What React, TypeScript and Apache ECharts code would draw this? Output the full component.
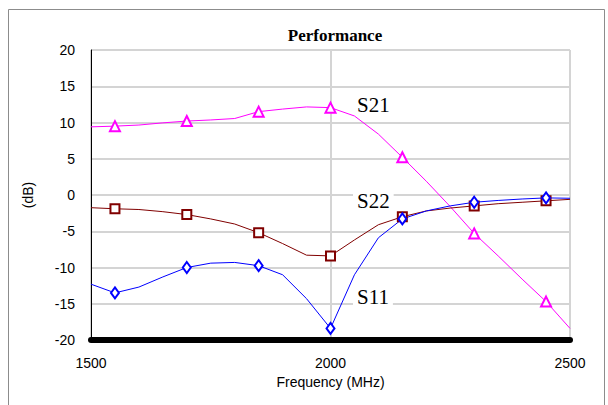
import React, { useEffect, useRef } from "react";
import * as echarts from "echarts";

const freqs = [1500, 1550, 1600, 1650, 1700, 1750, 1800, 1850, 1900, 1950, 2000, 2050, 2100, 2150, 2200, 2250, 2300, 2350, 2400, 2450, 2500];
const markerFreqs = [1550, 1700, 1850, 2000, 2150, 2300, 2450];
const s21 = [9.4, 9.5, 9.65, 9.95, 10.2, 10.35, 10.55, 11.5, 11.85, 12.15, 12.05, 10.9, 8.4, 5.2, 1.9, -1.6, -5.3, -8.4, -11.6, -14.7, -18.4];
const s22 = [-1.75, -1.9, -2.0, -2.3, -2.7, -3.3, -4.0, -5.2, -6.7, -8.3, -8.4, -6.2, -4.1, -3.0, -2.2, -1.8, -1.5, -1.2, -1.0, -0.8, -0.6];
const s11 = [-12.3, -13.5, -12.7, -11.3, -10.0, -9.4, -9.3, -9.75, -11.0, -14.3, -18.4, -11.0, -5.9, -3.3, -2.2, -1.5, -1.0, -0.75, -0.55, -0.4, -0.45];
const xTicks = { min: 1500, max: 2500, interval: 500 };
const yTicks = { min: -20, max: 20, interval: 5 };

const pair = (ys: number[]) => freqs.map((f, i) => [f, ys[i]]);

export default function App() {
  const ref = useRef<HTMLDivElement>(null);
  useEffect(() => {
    if (!ref.current) return;
    const chart = echarts.init(ref.current, undefined, { renderer: "svg" });
    const mk = (sym: string) => (v: number[]) => (markerFreqs.indexOf(v[0]) >= 0 ? sym : "none");
    const mkSeries = (name: string, ys: number[], color: string, sym: string, size: number | number[]) => ({
      name,
      type: "line",
      data: pair(ys),
      symbol: mk(sym),
      symbolSize: size,
      showAllSymbol: true,
      lineStyle: { color, width: 1 },
      itemStyle: { color, borderColor: color, borderWidth: 1 },
      z: 3,
    });
    chart.setOption({
      animation: false,
      backgroundColor: "#fff",
      title: {
        text: "Performance",
        left: 330,
        textAlign: "center",
        top: 22,
        textStyle: { fontFamily: "Liberation Serif", fontWeight: "bold", fontSize: 17, color: "#000" },
      },
      grid: { left: 91, right: 38, top: 50, bottom: 65, show: true, borderColor: "#000", borderWidth: 1, backgroundColor: "transparent" },
      xAxis: {
        type: "value",
        min: xTicks.min,
        max: xTicks.max,
        interval: xTicks.interval,
        name: "Frequency (MHz)",
        nameLocation: "middle",
        nameGap: 34,
        nameTextStyle: { fontFamily: "Liberation Sans", fontSize: 14, color: "#000" },
        axisLine: { onZero: false, lineStyle: { color: "#000", width: 6, cap: "round" } },
        axisTick: { show: false },
        axisLabel: { fontFamily: "Liberation Sans", fontSize: 14, color: "#000", margin: 16, formatter: (v: number) => String(v) },
        splitLine: { show: true, lineStyle: { color: "#d4d4d4", width: 2 } },
      },
      yAxis: {
        type: "value",
        min: yTicks.min,
        max: yTicks.max,
        interval: yTicks.interval,
        name: "(dB)",
        nameLocation: "middle",
        nameGap: 56,
        nameTextStyle: { fontFamily: "Liberation Sans", fontSize: 14, color: "#000" },
        axisLine: { show: true, onZero: false, lineStyle: { color: "#000", width: 1 } },
        axisTick: { show: false },
        axisLabel: { fontFamily: "Liberation Sans", fontSize: 14, color: "#000", margin: 16 },
        splitLine: { show: true, lineStyle: { color: "#d4d4d4", width: 2 } },
      },
      graphic: [
        { type: "rect", left: 6, top: 7, shape: { width: 596, height: 410 }, style: { fill: "none", stroke: "#8c8c8c", lineWidth: 1 }, z: -10 },
        { type: "text", x: 353, y: 94, z: 1, style: { text: "S21", font: "21px 'Liberation Serif'", fill: "#000", backgroundColor: "#fff", padding: [0, 4] } },
        { type: "text", x: 353, y: 190, z: 1, style: { text: "S22", font: "21px 'Liberation Serif'", fill: "#000", backgroundColor: "#fff", padding: [0, 4] } },
        { type: "text", x: 353, y: 286, z: 1, style: { text: "S11", font: "21px 'Liberation Serif'", fill: "#000", backgroundColor: "#fff", padding: [0, 4] } },
      ],
      series: [
        mkSeries("S21", s21, "#ff00ff", "emptyTriangle", [10, 10]),
        mkSeries("S22", s22, "#800000", "emptyRect", [9, 9]),
        mkSeries("S11", s11, "#0000ff", "emptyDiamond", [8, 11]),
      ],
    });
    return () => chart.dispose();
  }, []);
  return <div ref={ref} style={{ position: "fixed", left: 0, top: 0, width: 608, height: 405 }} />;
}
